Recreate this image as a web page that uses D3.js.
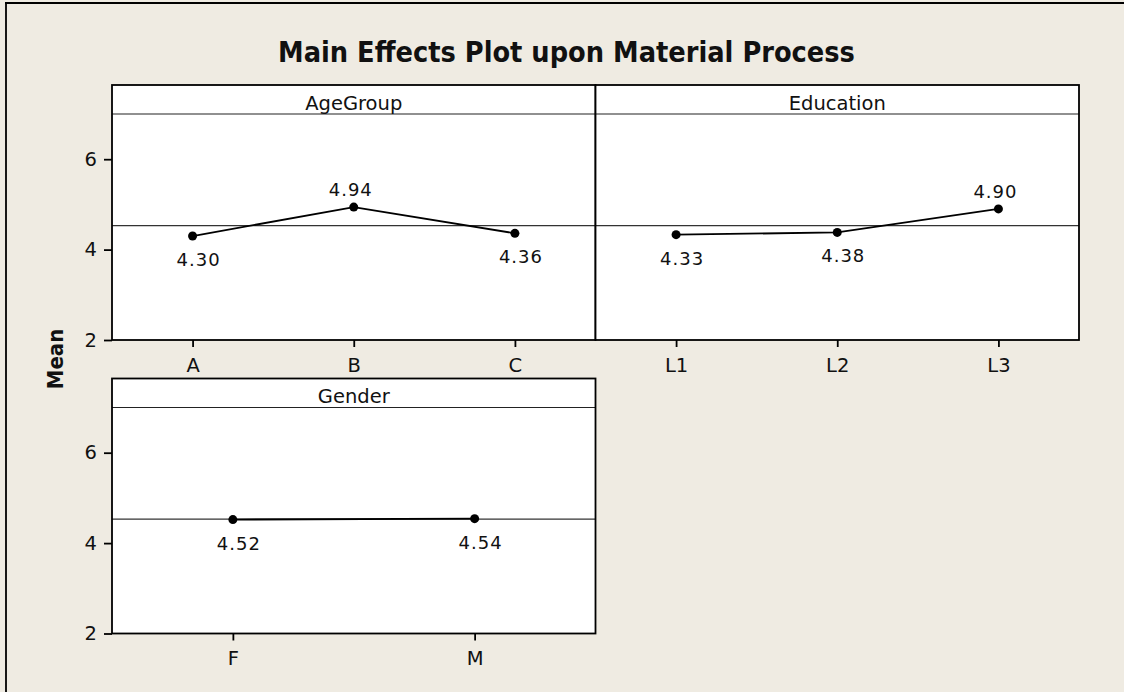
<!DOCTYPE html>
<html>
<head>
<meta charset="utf-8">
<script src="https://cdn.jsdelivr.net/npm/d3@7"></script>
<style>
  html, body { margin: 0; padding: 0; background: #efebe2; overflow: hidden; }
  svg { display: block; }
  text { font-family: "DejaVu Sans", sans-serif; fill: #111; }
  .bold { font-family: "DejaVu Sans Condensed", "DejaVu Sans", sans-serif; font-weight: bold; }
</style>
</head>
<body>
<svg id="chart" width="1124" height="692"></svg>
<script>
// Factor names and their levels
const factors = ["AgeGroup", "Education", "Gender"];
const ageLevels = ["A", "B", "C"];
const eduLevels = ["L1", "L2", "L3"];
const genderLevels = ["F", "M"];

// Mean response at each level
const ageMeans = [4.30, 4.94, 4.36];
const eduMeans = [4.33, 4.38, 4.90];
const genderMeans = [4.52, 4.54];

// Overall mean (reference line) and shared y axis
const grandMean = 4.53;
const yDomain = [2, 7];
const yTicks = [2, 4, 6];

const titleText = "Main Effects Plot upon Material Process";
const yLabel = "Mean";

const panels = [
  { name: factors[0], levels: ageLevels, means: ageMeans, col: 0, row: 0 },
  { name: factors[1], levels: eduLevels, means: eduMeans, col: 1, row: 0 },
  { name: factors[2], levels: genderLevels, means: genderMeans, col: 0, row: 1 }
];

// Layout
const svg = d3.select("#chart");
const W = 1124, H = 692;
const colX = [112, 595.5];
const panelW = 483.5;
const rowTop = [85, 378.5];
const headerH = 29;
const plotH = 226;
const FONT = "\"DejaVu Sans\", sans-serif";

// background and the outer frame's left and top edges
svg.append("rect").attr("width", W).attr("height", H).attr("fill", "#efebe2");
svg.append("line")
  .attr("x1", 6).attr("x2", 6).attr("y1", 2).attr("y2", H)
  .attr("stroke", "#000").attr("stroke-width", 1.8);
svg.append("line")
  .attr("x1", 5).attr("x2", W).attr("y1", 3).attr("y2", 3)
  .attr("stroke", "#000").attr("stroke-width", 1.8);

// title, sized to span its measured width
const title = svg.append("text")
  .attr("class", "bold")
  .attr("x", 566.5).attr("y", 62)
  .attr("text-anchor", "middle")
  .attr("font-size", 24)
  .text(titleText);
const tw = title.node().getComputedTextLength();
title.attr("font-size", 24 * 577 / tw);

// y axis label
svg.append("text")
  .attr("class", "bold")
  .attr("transform", "translate(63,359) rotate(-90)")
  .attr("text-anchor", "middle")
  .attr("font-size", 22)
  .text(yLabel);

panels.forEach(p => {
  const x0 = colX[p.col];
  const y0 = rowTop[p.row];
  const g = svg.append("g").attr("transform", `translate(${x0},${y0})`);

  const x = d3.scalePoint().domain(p.levels).range([0, panelW]).padding(0.5);
  const y = d3.scaleLinear().domain(yDomain).range([headerH + plotH, headerH]);

  // panel fill
  g.append("rect")
    .attr("width", panelW).attr("height", headerH + plotH)
    .attr("fill", "#fff");

  // header strip
  g.append("line")
    .attr("x1", 0).attr("x2", panelW)
    .attr("y1", headerH).attr("y2", headerH)
    .attr("stroke", "#222").attr("stroke-width", 1.2);
  g.append("text")
    .attr("x", panelW / 2).attr("y", headerH - 4.5)
    .attr("text-anchor", "middle")
    .attr("font-size", 19.5)
    .text(p.name);

  // reference line at the overall mean
  g.append("line")
    .attr("x1", 0).attr("x2", panelW)
    .attr("y1", y(grandMean)).attr("y2", y(grandMean))
    .attr("stroke", "#333").attr("stroke-width", 1.2);

  // x axis
  const xAxis = g.append("g")
    .attr("transform", `translate(0,${headerH + plotH})`)
    .call(d3.axisBottom(x).tickSize(7).tickPadding(11));
  xAxis.select(".domain").remove();
  xAxis.selectAll(".tick line").attr("stroke", "#000").attr("stroke-width", 1.8);
  xAxis.selectAll(".tick text")
    .attr("font-size", 19.5).attr("fill", "#111")
    .style("font-family", FONT);

  // y axis on the left column only
  if (p.col === 0) {
    const yAxis = g.append("g")
      .call(d3.axisLeft(y).tickValues(yTicks).tickSize(8).tickPadding(7).tickFormat(d3.format("d")));
    yAxis.select(".domain").remove();
    yAxis.selectAll(".tick line").attr("stroke", "#000").attr("stroke-width", 1.8);
    yAxis.selectAll(".tick text")
      .attr("font-size", 19.5).attr("fill", "#111")
      .style("font-family", FONT);
  }

  const pts = p.levels.map((l, i) => ({ level: l, mean: p.means[i], above: p.means[i] > grandMean + 0.2 }));

  // connecting line
  g.append("path")
    .datum(pts)
    .attr("fill", "none")
    .attr("stroke", "#000")
    .attr("stroke-width", 1.8)
    .attr("d", d3.line().x(d => x(d.level)).y(d => y(d.mean)));

  // points
  g.selectAll("circle.pt")
    .data(pts).join("circle")
    .attr("class", "pt")
    .attr("cx", d => x(d.level)).attr("cy", d => y(d.mean))
    .attr("r", 4.5).attr("fill", "#000");

  // value labels: above when clearly above the mean line, otherwise below
  g.selectAll("text.val")
    .data(pts).join("text")
    .attr("class", "val")
    .attr("x", d => x(d.level) + (d.above ? -3 : 6))
    .attr("y", d => d.above ? y(d.mean) - 11 : y(d.mean) + 30)
    .attr("text-anchor", "middle")
    .attr("font-size", 18)
    .attr("letter-spacing", 1)
    .text(d => d.mean.toFixed(2));

  // panel border (drawn last)
  g.append("rect")
    .attr("width", panelW).attr("height", headerH + plotH)
    .attr("fill", "none").attr("stroke", "#000").attr("stroke-width", 1.8);
});
</script>
</body>
</html>
